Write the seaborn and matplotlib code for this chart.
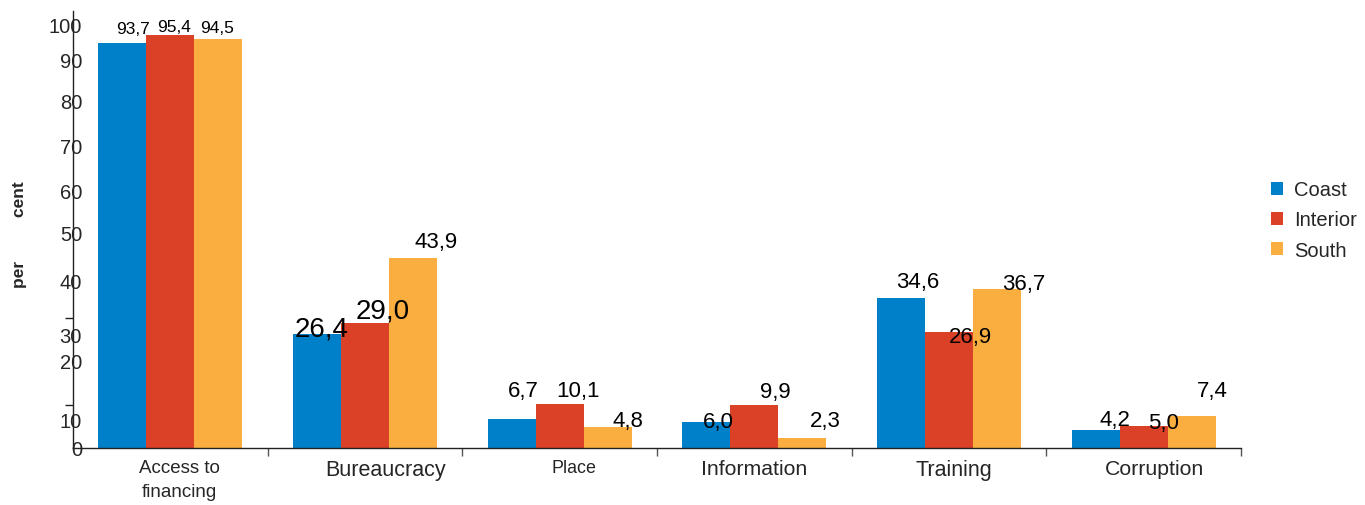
import matplotlib
matplotlib.use("Agg")
import matplotlib.pyplot as plt
import seaborn as sns
import pandas as pd
from matplotlib.patches import Patch

# ---- data ----
categories = ["Access to\nfinancing", "Bureaucracy", "Place", "Information", "Training", "Corruption"]
regions = ["Coast", "Interior", "South"]
coast = [93.7, 26.4, 6.7, 6.0, 34.6, 4.2]
interior = [95.4, 29.0, 10.1, 9.9, 26.9, 5.0]
south = [94.5, 43.9, 4.8, 2.3, 36.7, 7.4]
ytick_labels = ["100", "90", "80", "70", "60", "50", "40", "30", "20", "10", "0"]

# label styling / placement (pixel offsets from bar centre-top)
label_offsets = [
    [(11, 10), (4, 4), (-1, 7)],
    [(4.5, -2), (17.5, 5), (23, 11)],
    [(12, 22.6), (18, 8), (20, 1.7)],
    [(11.7, -5), (21, 8), (23, 11.7)],
    [(16.5, 11), (21.5, -10), (26.5, 0.7)],
    [(19, 5), (19.7, -1.4), (21, 19.7)],
]
xlabel_shift_px = [9, 21, 14, 0, 4.5, 11]
xlabel_size = [13.5, 15.5, 12.9, 15.3, 15.5, 15.3]
ytick_pos = [97.9, 89.8, 80.2, 70, 59.4, 49.8, 38.6, 26.3, 20.2, 6.7, 0]
colors = ["#0080C8", "#DA4127", "#F9AE3F"]

sns.set_style("white")
plt.rcParams["font.family"] = ["Liberation Sans", "DejaVu Sans"]

df = pd.DataFrame({
    "category": categories * 3,
    "region": [r for r in regions for _ in categories],
    "value": coast + interior + south,
})

fig = plt.figure(figsize=(13.65, 5.06), dpi=100)
ax_w_px = 1241 - 73
ax = fig.add_axes([73 / 1365, 1 - 449 / 506, ax_w_px / 1365, 437 / 506])

sns.barplot(data=df, x="category", y="value", hue="region", order=categories,
            hue_order=regions, palette=colors, width=0.74, saturation=1,
            linewidth=0, legend=False, ax=ax, errorbar=None)

ax.set_xlim(-0.5, len(categories) - 0.5)
ax.set_ylim(0, 101)
ax.set_xlabel("")
ax.set_ylabel("")

for s in ["top", "right"]:
    ax.spines[s].set_visible(False)
for s in ["left", "bottom"]:
    ax.spines[s].set_color("#222222")
    ax.spines[s].set_linewidth(1)

# y ticks: labels at odd positions, marks at 0, 10, 30
ax.set_yticks(ytick_pos)
ax.set_yticklabels(ytick_labels, fontsize=14.5)
ax.set_yticks([0, 10, 30], minor=True)
ax.tick_params(axis="y", which="major", length=0, pad=-6.5)
ax.tick_params(axis="y", which="minor", length=6, width=1, color="#222222", direction="out", left=True)

# x ticks (label positions slightly shifted, as in the original)
px_per_cat = ax_w_px / len(categories)
ax.set_xticks([i + d / px_per_cat for i, d in enumerate(xlabel_shift_px)])
ax.set_xticklabels(categories, linespacing=1.5)
for t, fs in zip(ax.get_xticklabels(), xlabel_size):
    t.set_fontsize(fs)
ax.set_xticks([i + 0.5 for i in range(len(categories))], minor=True)
ax.tick_params(axis="x", which="major", length=0, pad=8)
ax.tick_params(axis="x", which="minor", length=6, width=1, color="#555555", direction="out", bottom=True)

# value labels
for j, cont in enumerate(ax.containers):
    for i, bar in enumerate(cont):
        v = bar.get_height()
        dx, dy = label_offsets[i][j]
        if i == 0:
            size = 12.5
        elif i == 1 and j < 2:
            size = 20
        else:
            size = 16
        ax.annotate(f"{v:.1f}".replace(".", ","),
                    (bar.get_x() + bar.get_width() / 2, v),
                    xytext=(dx, dy), textcoords="offset pixels",
                    ha="center", va="baseline", fontsize=size, color="black",
                    annotation_clip=False)

fig.text(20 / 1365, 1 - 235 / 506, "per         cent", rotation=90, weight="bold",
         fontsize=12.5, ha="center", va="center")

handles = [Patch(facecolor=c, edgecolor="none") for c in colors]
fig.legend(handles, regions, loc="center left", bbox_to_anchor=(1271 / 1365, 1 - 221 / 506),
           frameon=False, handlelength=0.6, handleheight=0.6, handletextpad=0.55,
           labelspacing=0.55, fontsize=14.5, borderaxespad=0, borderpad=0)

fig.savefig("out.png", dpi=100)
